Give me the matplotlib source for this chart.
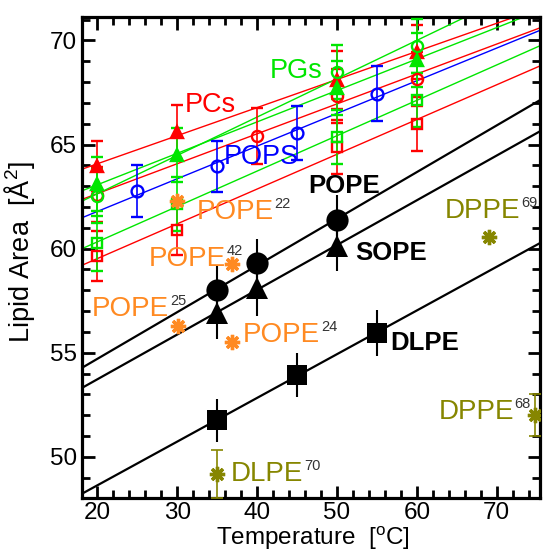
import numpy as np
import matplotlib
matplotlib.use('Agg')
import matplotlib.pyplot as plt
from matplotlib.ticker import MultipleLocator

plt.rcParams['font.family'] = ['Liberation Sans', 'DejaVu Sans']
plt.rcParams['mathtext.fontset'] = 'custom'
plt.rcParams['mathtext.rm'] = 'Liberation Sans'
plt.rcParams['mathtext.it'] = 'Liberation Sans:italic'

# ---------------- data ----------------
# simulated PE lipids (black)
pope_T = [35, 40, 50]
pope_A = [58.0, 59.3, 61.4]
pope_err = [1.2, 1.15, 1.2]
sope_T = [35, 40, 50]
sope_A = [56.9, 58.1, 60.15]
sope_err = [1.25, 1.35, 1.2]
dlpe_T = [35, 45, 55]
dlpe_A = [51.75, 53.95, 55.95]
dlpe_err = [1.05, 1.05, 1.1]

# PCs (red)
pc_tri_T = [20, 30, 50, 60]
pc_tri_A = [63.95, 65.6, 68.1, 69.45]
pc_tri_err = [1.2, 1.3, 1.4, 1.3]
pc_circ_T = [20, 40, 50, 60]
pc_circ_A = [62.6, 65.4, 67.35, 68.15]
pc_circ_err = [1.3, 1.35, 1.3, 1.3]
pc_sq_T = [20, 30, 50, 60]
pc_sq_A = [59.65, 60.9, 64.9, 66.0]
pc_sq_err = [1.2, 1.2, 1.3, 1.3]

# PGs (green)
pg_tri_T = [20, 30, 50, 60]
pg_tri_A = [63.1, 64.5, 67.7, 69.05]
pg_tri_err = [1.3, 1.3, 1.3, 1.3]
pg_circ_T = [20, 50, 60]
pg_circ_A = [62.55, 68.5, 69.75]
pg_circ_err = [1.3, 1.3, 1.3]
pg_sq_T = [20, 30, 50, 60]
pg_sq_A = [60.25, 62.15, 65.35, 67.15]
pg_sq_err = [1.3, 1.3, 1.3, 1.3]

# POPS (blue)
pops_T = [25, 35, 45, 55]
pops_A = [62.75, 63.95, 65.55, 67.45]
pops_err = [1.25, 1.22, 1.28, 1.3]

# experimental POPE (orange)
popex_T = [30, 36.9, 30.1, 36.9]
popex_A = [62.3, 59.25, 56.3, 55.5]
popex_ref = ['22', '42', '25', '24']

# experimental DPPE / DLPE (olive)
olive_T = [69, 74.8, 35]
olive_A = [60.55, 52.0, 49.2]
olive_err = [0.0, 1.0, 1.15]
olive_name = ['DPPE', 'DPPE', 'DLPE']
olive_ref = ['69', '68', '70']

RED = '#ff0000'
GREEN = '#00e600'
BLUE = '#0000ff'
ORANGE = '#ff8a22'
OLIVE = '#868600'
SUPC = '#333333'

fig = plt.figure(figsize=(5.43, 5.52), dpi=100)
ax = fig.add_axes([0.151, 0.0987, 0.8435, 0.8703])
xlim = (18.09, 75.41)
ylim = (48.05, 71.12)
xx = np.array(xlim)


def fitline(T, A, color, lw, z):
    p = np.polyfit(T, A, 1)
    ax.plot(xx, np.polyval(p, xx), color=color, lw=lw, zorder=z)


# colored series
colored = [
    (pc_tri_T, pc_tri_A, pc_tri_err, RED, '^', True, 9),
    (pc_circ_T, pc_circ_A, pc_circ_err, RED, 'o', False, 8),
    (pc_sq_T, pc_sq_A, pc_sq_err, RED, 's', False, 6.5),
    (pg_tri_T, pg_tri_A, pg_tri_err, GREEN, '^', True, 9),
    (pg_circ_T, pg_circ_A, pg_circ_err, GREEN, 'o', False, 8),
    (pg_sq_T, pg_sq_A, pg_sq_err, GREEN, 's', False, 6.5),
    (pops_T, pops_A, pops_err, BLUE, 'o', False, 8.5),
]
for T, A, e, c, m, filled, ms in colored:
    fitline(T, A, c, 1.0, 2)
    ax.errorbar(T, A, yerr=e, fmt=m, color=c, ms=ms, mew=1.7,
                mfc=c if filled else 'none', mec=c, elinewidth=1.2,
                capsize=4, capthick=1.2, zorder=3)

# black series
black = [
    (pope_T, pope_A, pope_err, 'o', 16),
    (sope_T, sope_A, sope_err, '^', 16),
    (dlpe_T, dlpe_A, dlpe_err, 's', 14),
]
for T, A, e, m, ms in black:
    fitline(T, A, 'black', 1.6, 4)
    ax.errorbar(T, A, yerr=e, fmt=m, color='black', ms=ms, mew=0,
                elinewidth=1.5, capsize=6, capthick=1.5, zorder=5)

# experimental points
ast = (8, 2, 0)
ax.plot(popex_T, popex_A, ls='none', marker=ast, ms=11, mew=2.4,
        color=ORANGE, zorder=6)
ax.errorbar(olive_T, olive_A, yerr=olive_err, fmt='none', ecolor=OLIVE,
            elinewidth=1.2, capsize=4, capthick=1.2, zorder=6)
ax.plot(olive_T, olive_A, ls='none', marker=ast, ms=11, mew=2.4,
        color=OLIVE, zorder=6)

# ---------------- labels ----------------
ax.text(30.98, 66.56, 'PCs', color=RED, fontsize=19.5, va='baseline')
ax.text(41.6, 68.21, 'PGs', color=GREEN, fontsize=19.5, va='baseline')
ax.text(35.77, 64.08, 'POPS', color=BLUE, fontsize=19.5, va='baseline')
ax.text(46.41, 62.67, 'POPE', color='black', fontsize=18.5,
        fontweight='bold', va='baseline')
ax.text(52.25, 59.47, 'SOPE', color='black', fontsize=18.5,
        fontweight='bold', va='baseline')
ax.text(56.63, 55.12, 'DLPE', color='black', fontsize=18.5,
        fontweight='bold', va='baseline')


def reflabel(x, y, name, ref, color):
    t = ax.text(x, y, name, color=color, fontsize=20, va='baseline',
                zorder=7)
    ax.annotate(ref, xy=(1.0, 1.0), xycoords=t, xytext=(0.5, 1.5),
                textcoords='offset points', ha='left', va='top',
                fontsize=10.5, color=SUPC, zorder=7)


popex_pos = [(32.44, 61.44), (26.5, 59.15), (19.35, 56.75), (38.24, 55.52)]
for (x, y), r in zip(popex_pos, popex_ref):
    reflabel(x, y, 'POPE', r, ORANGE)
olive_pos = [(63.52, 61.49), (62.68, 51.84), (36.7, 48.84)]
for (x, y), n, r in zip(olive_pos, olive_name, olive_ref):
    reflabel(x, y, n, r, OLIVE)

# ---------------- axes ----------------
ax.set_xlim(*xlim)
ax.set_ylim(*ylim)
ax.xaxis.set_major_locator(MultipleLocator(10))
ax.xaxis.set_minor_locator(MultipleLocator(2))
ax.yaxis.set_major_locator(MultipleLocator(5))
ax.yaxis.set_minor_locator(MultipleLocator(1))
ax.tick_params(which='both', direction='in', top=True, right=True,
               width=2, labelsize=17.5, color='black')
ax.tick_params(which='major', length=9)
ax.tick_params(axis='x', which='major', pad=3)
ax.tick_params(which='minor', length=5.5)
for s in ax.spines.values():
    s.set_linewidth(2.3)

fig.text(0.5765, 1 - 545.5 / 552, 'Temperature  [$^{\\mathrm{o}}$C]',
         fontsize=17.5, ha='center', va='baseline')
fig.text(0.036, 1 - 252 / 552, 'Lipid Area  [$\\mathrm{\\AA}^{2}$]',
         fontsize=19.5, rotation=90, ha='center', va='center')

fig.savefig('out.png', dpi=100)
